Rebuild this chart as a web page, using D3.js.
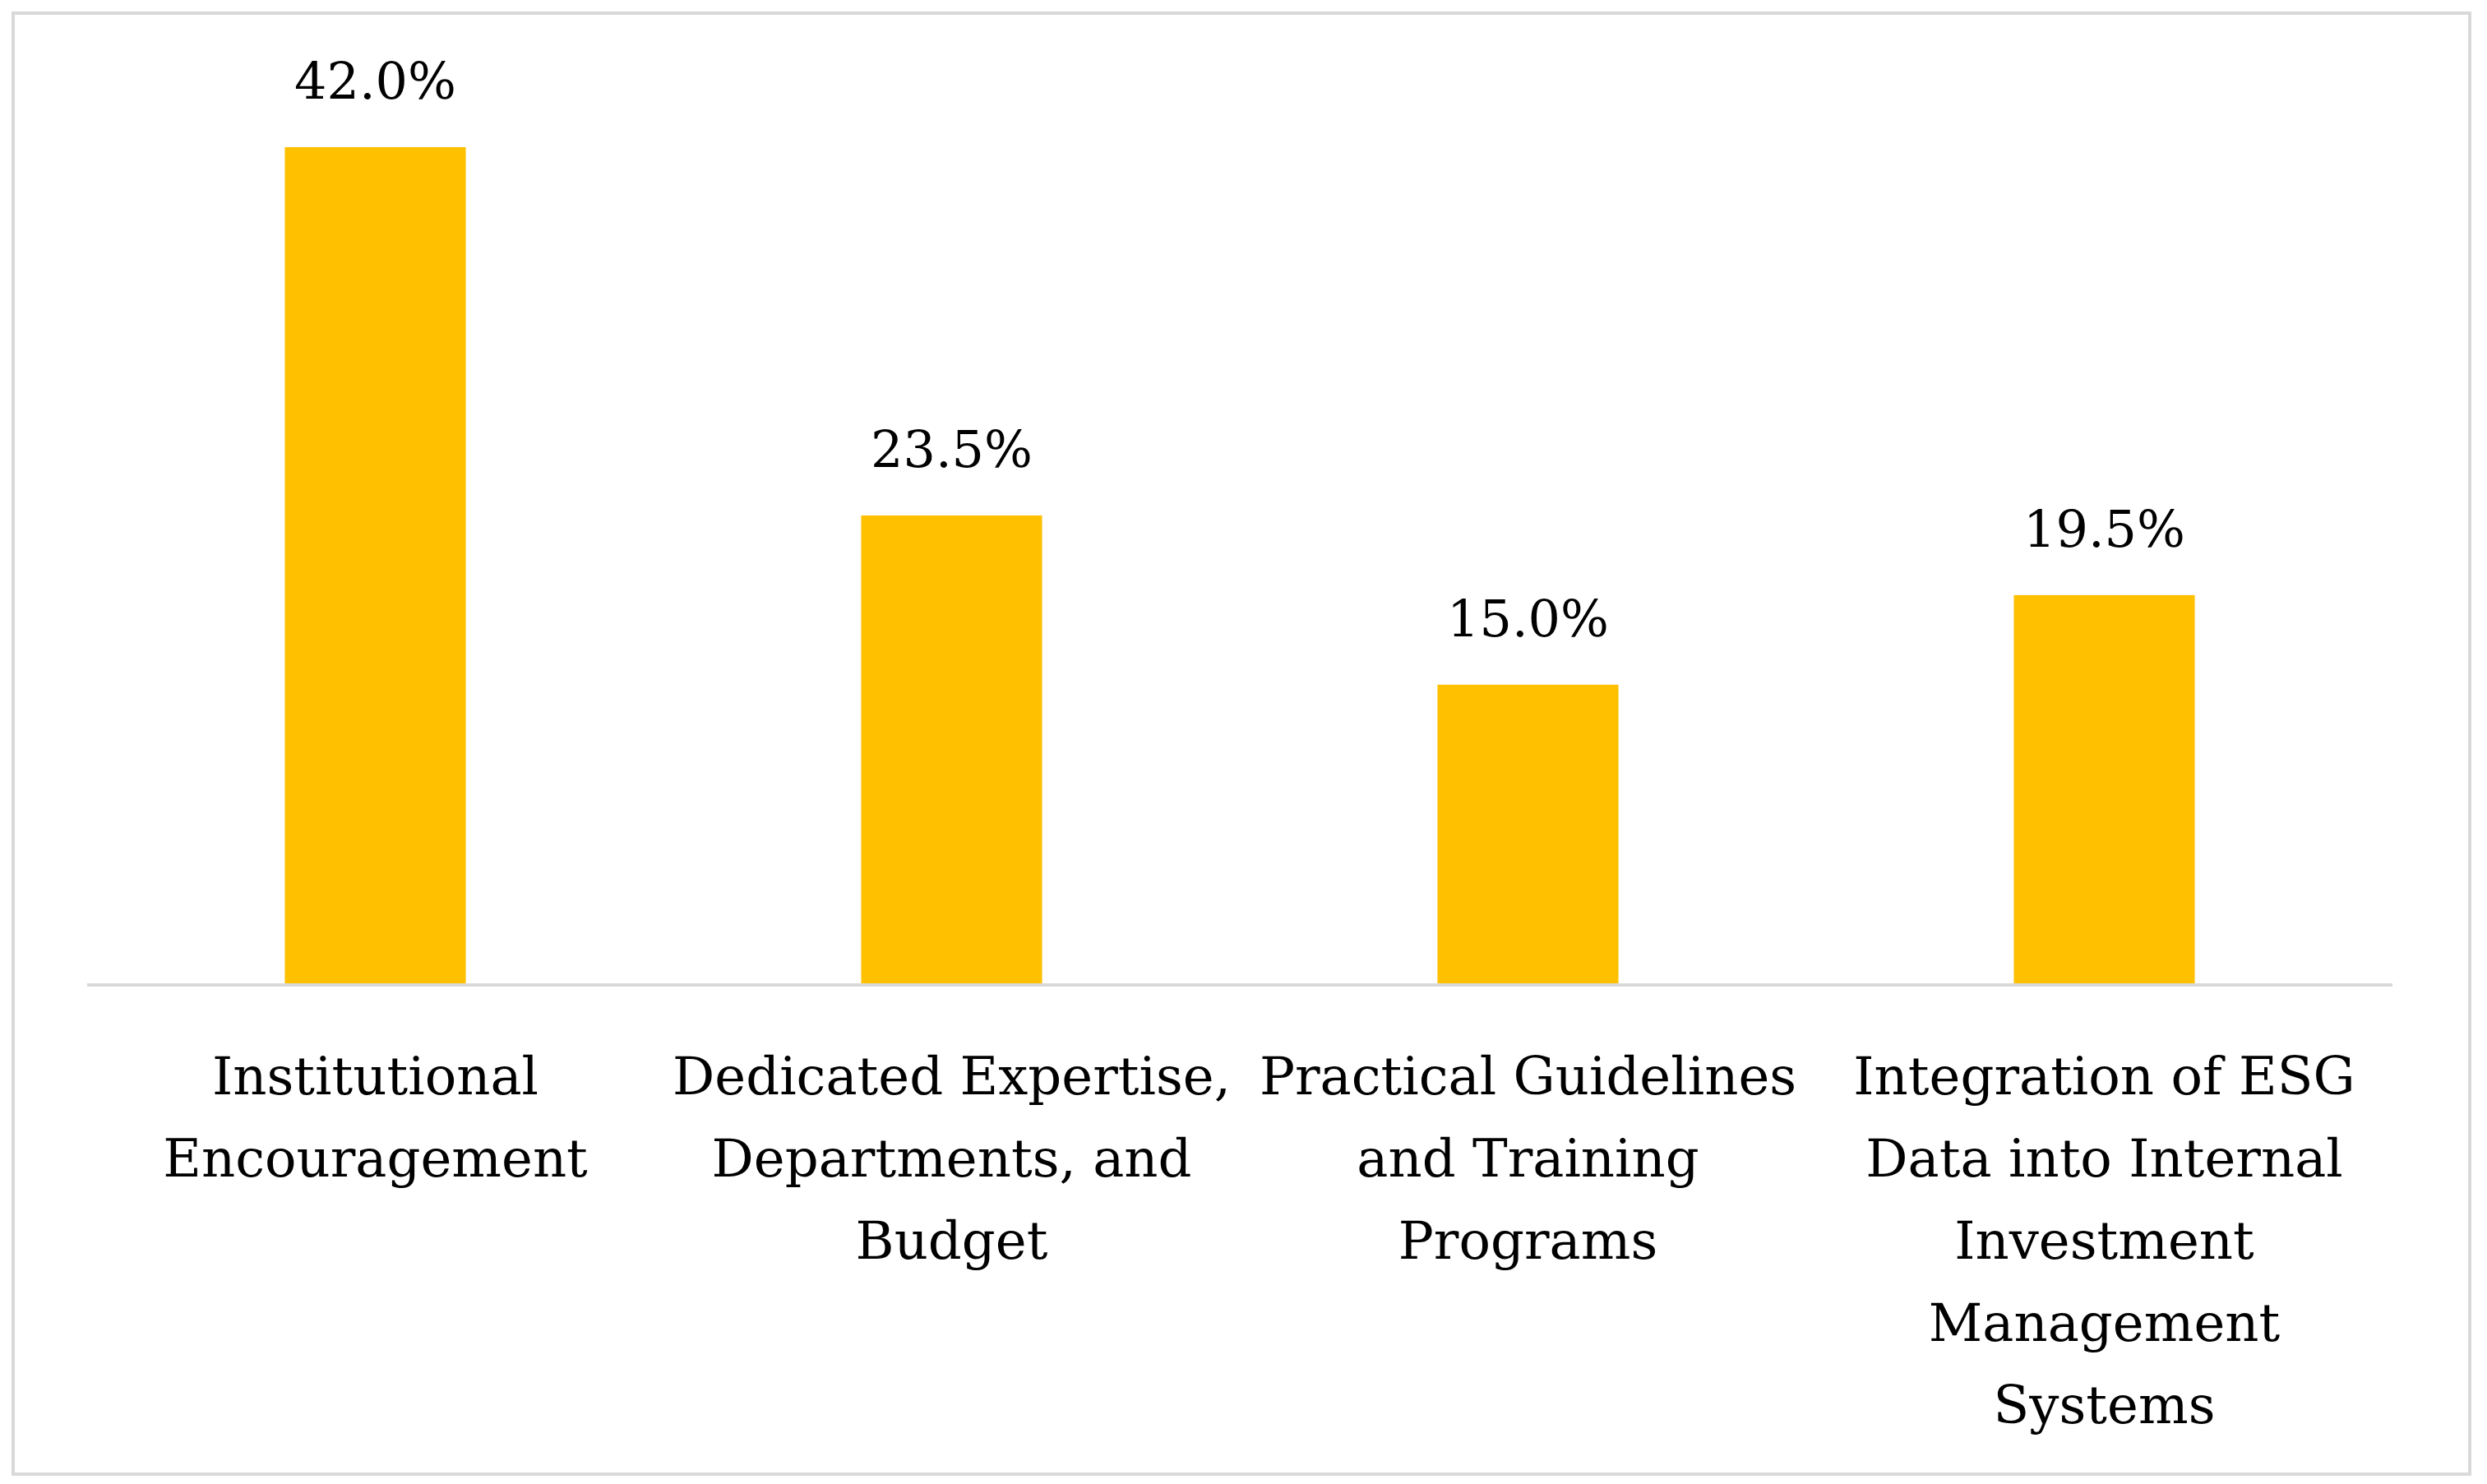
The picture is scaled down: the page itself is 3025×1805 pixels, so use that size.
<!DOCTYPE html>
<html>
<head>
<meta charset="utf-8">
<script src="https://cdn.jsdelivr.net/npm/d3@7"></script>
<style>
  body { margin: 0; background: #fff; }
  text { font-family: "DejaVu Serif", "Liberation Serif", serif; fill: #000; }
</style>
</head>
<body>
<svg id="chart" width="3025" height="1805"></svg>
<script>
const categories = [
    ["Institutional", "Encouragement"],
    ["Dedicated Expertise,", "Departments, and", "Budget"],
    ["Practical Guidelines", "and Training", "Programs"],
    ["Integration of ESG", "Data into Internal", "Investment", "Management", "Systems"]
];
const values = [42.0, 23.5, 15.0, 19.5];

const svg = d3.select('#chart');

svg.append('rect')
    .attr('x', 16).attr('y', 16)
    .attr('width', 2988).attr('height', 1777)
    .attr('fill', 'none').attr('stroke', '#d9d9d9').attr('stroke-width', 4);

const x = d3.scaleBand()
    .domain(d3.range(values.length))
    .range([106, 2910])
    .paddingInner(0.686)
    .paddingOuter(0.343);

const y = d3.scaleLinear()
    .domain([0, 42])
    .range([1196, 179]);

svg.selectAll('rect.bar')
    .data(values)
    .join('rect')
    .attr('class', 'bar')
    .attr('x', (d, i) => x(i))
    .attr('y', d => y(d))
    .attr('width', x.bandwidth())
    .attr('height', d => y(0) - y(d))
    .attr('fill', '#ffc000');

svg.append('line')
    .attr('x1', 106).attr('x2', 2910)
    .attr('y1', y(0) + 2).attr('y2', y(0) + 2)
    .attr('stroke', '#d9d9d9').attr('stroke-width', 4);

svg.selectAll('text.value')
    .data(values)
    .join('text')
    .attr('class', 'value')
    .attr('x', (d, i) => x(i) + x.bandwidth() / 2)
    .attr('y', d => y(d) - 59)
    .attr('text-anchor', 'middle')
    .attr('font-size', 62)
    .text(d => d.toFixed(1) + '%');

const labels = svg.selectAll('text.cat')
    .data(categories)
    .join('text')
    .attr('class', 'cat')
    .attr('text-anchor', 'middle')
    .attr('font-size', 64);

labels.selectAll('tspan')
    .data((d, i) => d.map(line => ({ line, i })))
    .join('tspan')
    .attr('x', d => x(d.i) + x.bandwidth() / 2)
    .attr('y', (d, j) => 1331 + j * 100)
    .text(d => d.line);
</script>
</body>
</html>
